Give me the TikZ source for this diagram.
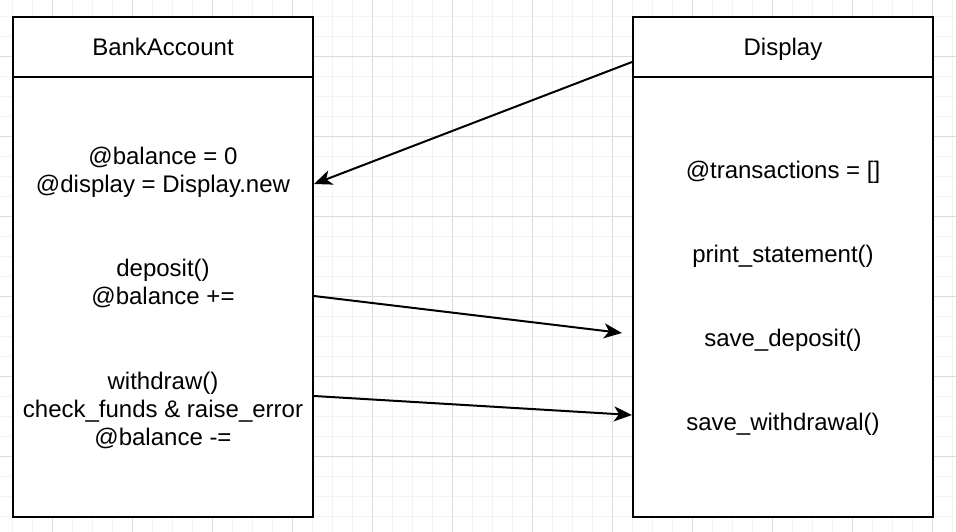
\documentclass[tikz,border=0pt]{standalone}
\usepackage{fontspec}
\setmainfont{Liberation Sans}
\usetikzlibrary{arrows.meta,calc}
\definecolor{gridminor}{HTML}{F3F3F3}
\definecolor{gridmajor}{HTML}{DCDCDC}
\tikzset{
  boxpart/.style={draw=black, line width=2pt, fill=white, rectangle, inner sep=0pt, minimum width=300pt},
  lbl/.style={inner sep=0pt, align=center, font=\fontsize{24}{28}\selectfont},
  conn/.style={line width=2pt, -{Stealth[length=18pt,width=15pt,inset=5pt]}},
}
\begin{document}
\begin{tikzpicture}[x=1pt,y=-1pt]
\useasboundingbox (0,0) rectangle (956,532);
\fill[white] (0,0) rectangle (956,532);
% minor grid
\foreach \i in {0,...,47} {\draw[gridminor, line width=1pt] ({12.7+20*\i},0) -- ({12.7+20*\i},532);}
\foreach \j in {0,...,26} {\draw[gridminor, line width=1pt] (0,{16.7+20*\j}) -- (956,{16.7+20*\j});}
% major grid
\foreach \i in {0,...,11} {\draw[gridmajor, line width=1pt] ({52.7+80*\i},0) -- ({52.7+80*\i},532);}
\foreach \j in {0,...,6} {\draw[gridmajor, line width=1pt] (0,{56.7+80*\j}) -- (956,{56.7+80*\j});}
% BankAccount
\node[boxpart, minimum height=60pt] (bahead) at (163,47) {};
\node[boxpart, minimum height=440pt] (babody) at (163,297) {};
\node[lbl, anchor=base] (batitle) at (163,56) {BankAccount};
\node[lbl] (bainit) at (163,172) {@balance = 0\\@display = Display.new};
\node[lbl] (badep) at (163,283.5) {deposit()\\@balance +=};
\node[lbl] (bawd) at (163,410) {withdraw()\\check\_funds \& raise\_error\\@balance -=};
% Display
\node[boxpart, minimum height=60pt] (dphead) at (783,47) {};
\node[boxpart, minimum height=440pt] (dpbody) at (783,297) {};
\node[lbl, anchor=base] (dptitle) at (783,56) {Display};
\node[lbl] (dptrans) at (783,172) {@transactions = []};
\node[lbl] (dpprint) at (783,256) {print\_statement()};
\node[lbl] (dpsdep) at (783,340) {save\_deposit()};
\node[lbl] (dpswd) at (783,424) {save\_withdrawal()};
% connector end points
\coordinate (c1s) at ($(dphead.north west)+(0,46)$);
\coordinate (c1e) at ($(babody.north east)+(0,108)$);
\coordinate (c2s) at ($(babody.north east)+(0,220)$);
\coordinate (c2e) at (622,333);
\coordinate (c3s) at ($(babody.north east)+(0,320)$);
\coordinate (c3e) at ($(dpbody.north west)+(0,339)$);
\draw[conn] (c1s) -- (c1e);
\draw[conn] (c2s) -- (c2e);
\draw[conn] (c3s) -- (c3e);
\end{tikzpicture}
\end{document}
